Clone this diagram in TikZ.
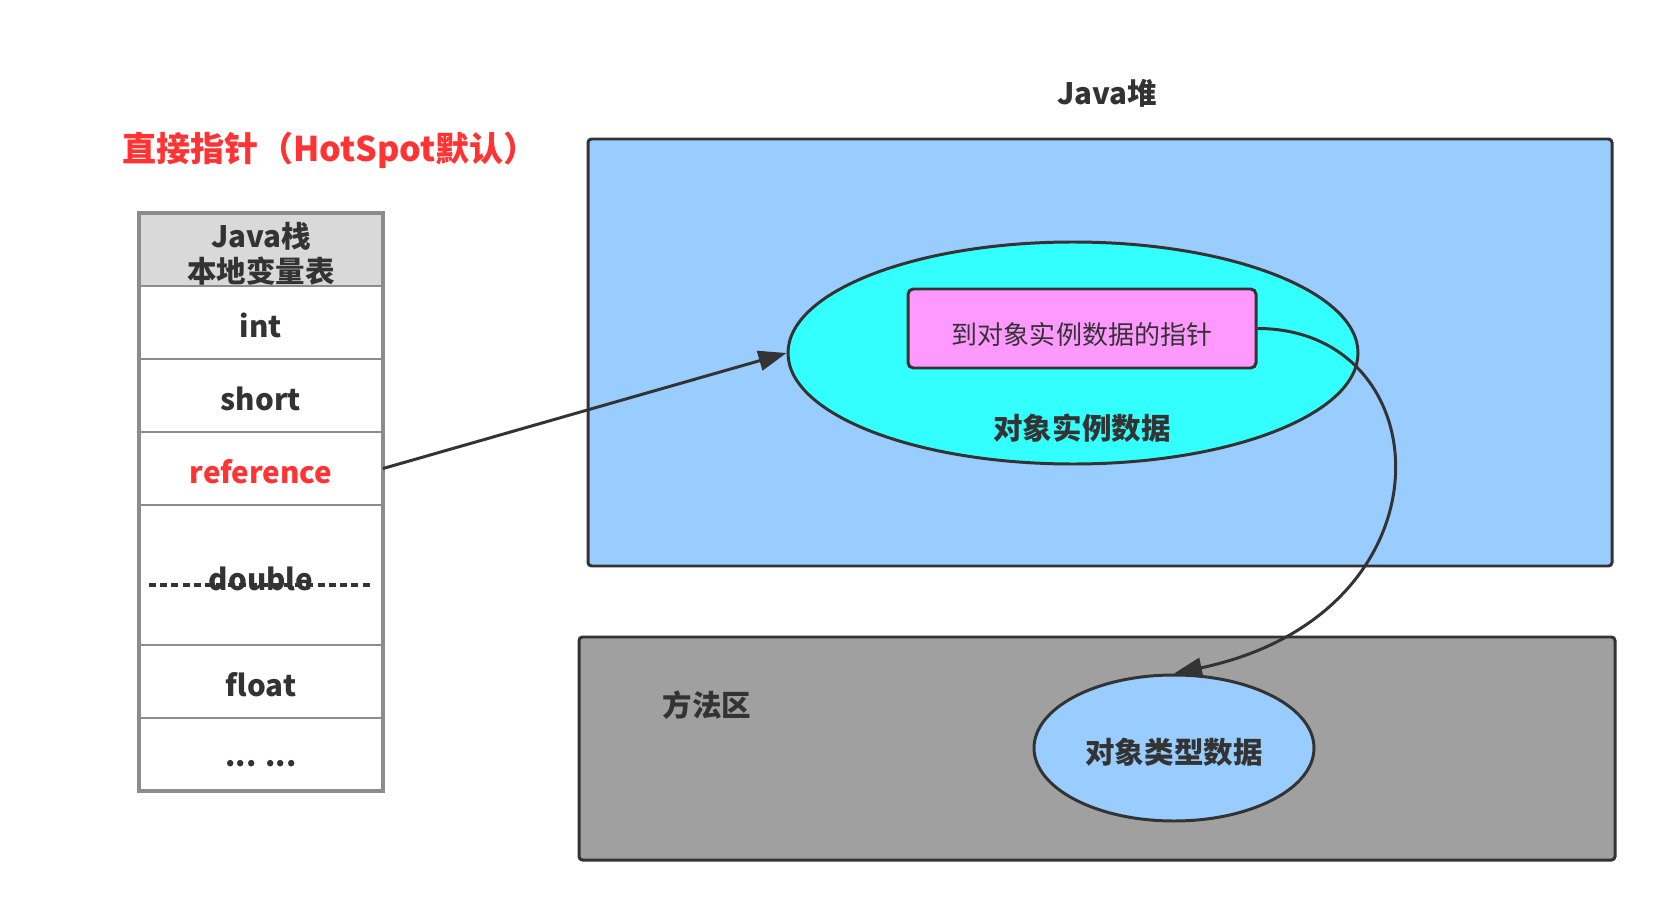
\documentclass[tikz,border=0pt]{standalone}
\usepackage{fontspec}
\setmainfont{Noto Sans CJK SC}
\usetikzlibrary{positioning,shapes.geometric,arrows.meta}

\definecolor{ink}{HTML}{333333}
\definecolor{slotgray}{HTML}{8C8C8C}
\definecolor{headgray}{HTML}{D9D9D9}
\definecolor{heapblue}{HTML}{99CCFF}
\definecolor{objcyan}{HTML}{33FFFF}
\definecolor{ptrpink}{HTML}{FF99FF}
\definecolor{methgray}{HTML}{A0A0A0}
\definecolor{titlered}{HTML}{FF3333}

\newcommand{\lblfont}{\fontsize{16.8}{19.9}\selectfont\bfseries}

\tikzset{
	slot/.style={draw=slotgray, line width=1.1pt, fill=white, outer sep=0pt, inner sep=0pt,
		minimum width=4.88cm, minimum height=1.46cm, font=\lblfont, text=ink, align=center,
		text height=18.5pt, text depth=1.3pt},
	area/.style={draw=ink, line width=1.7pt, rounded corners=2pt},
	blob/.style={ellipse, draw=ink, line width=1.7pt, inner sep=0pt},
	link/.style={draw=ink, line width=1.7pt, -{Triangle[length=.56cm,width=.4cm]}},
}

\begin{document}
\begin{tikzpicture}
			\useasboundingbox (0,0) rectangle (33.28,18.2);
			\node[anchor=west, font=\fontsize{19.4}{22}\selectfont\bfseries, text=titlered] (title) at (2.33,15.2) {直接指针（HotSpot默认）};
			
			% Java stack
			\node[slot, fill=headgray, text height=39.3pt, text depth=2pt] (head) at (5.22,13.21) {Java栈\\本地变量表};
			\node[slot, below=0pt of head] (int) {int};
			\node[slot, below=0pt of int] (short) {short};
			\node[slot, below=0pt of short, text=titlered] (ref) {reference};
			\node[slot, below=0pt of ref, minimum height=2.8cm] (double) {double};
			\node[slot, below=0pt of double] (float) {float};
			\node[slot, below=0pt of float, text height=15.1pt] (dots) {... ...};
			\draw[ink, line width=2pt, dash pattern=on 3.9pt off 2.5pt] ([xshift=.2cm,yshift=-.2cm]double.west) -- ([xshift=-.2cm,yshift=-.2cm]double.east);
			\draw[slotgray, line width=2.2pt] (head.north west) rectangle (dots.south east);
			
			% heap
			\node[area, fill=heapblue, minimum width=20.48cm, minimum height=8.54cm] (heap) at (22.0,11.15) {};
			\node[font=\lblfont, text=ink] (heaplbl) at (22.14,16.34) {Java堆};
			\node[blob, fill=objcyan, minimum width=11.4cm, minimum height=4.44cm] (obj) at (21.46,11.14) {};
			\node[font=\lblfont, text=ink] (objlbl) at (21.64,9.64) {对象实例数据};
			\node[draw=ink, line width=1.7pt, rounded corners=3pt, fill=ptrpink, minimum width=6.96cm, minimum height=1.58cm,
				inner sep=0pt, text height=18.6pt, text depth=0pt,
				font=\fontsize{14.8}{18}\selectfont, text=ink] (ptr) at (21.64,11.63) {到对象实例数据的指针};
			
			% method area
			\node[area, fill=methgray, minimum width=20.72cm, minimum height=4.46cm] (meth) at (21.94,3.23) {};
			\node[font=\lblfont, text=ink] (methlbl) at (14.14,4.1) {方法区};
			\node[blob, fill=heapblue, minimum width=5.6cm, minimum height=2.92cm, text height=17.6pt, text depth=0pt,
				font=\lblfont, text=ink] (type) at (23.48,3.24) {对象类型数据};
			
			\draw[link] (ref.east) -- (obj.west);
			\draw[link] (ptr.east) .. controls +(3.7,0) and +(5.7,1.2) .. (type.north);
\end{tikzpicture}
\end{document}
